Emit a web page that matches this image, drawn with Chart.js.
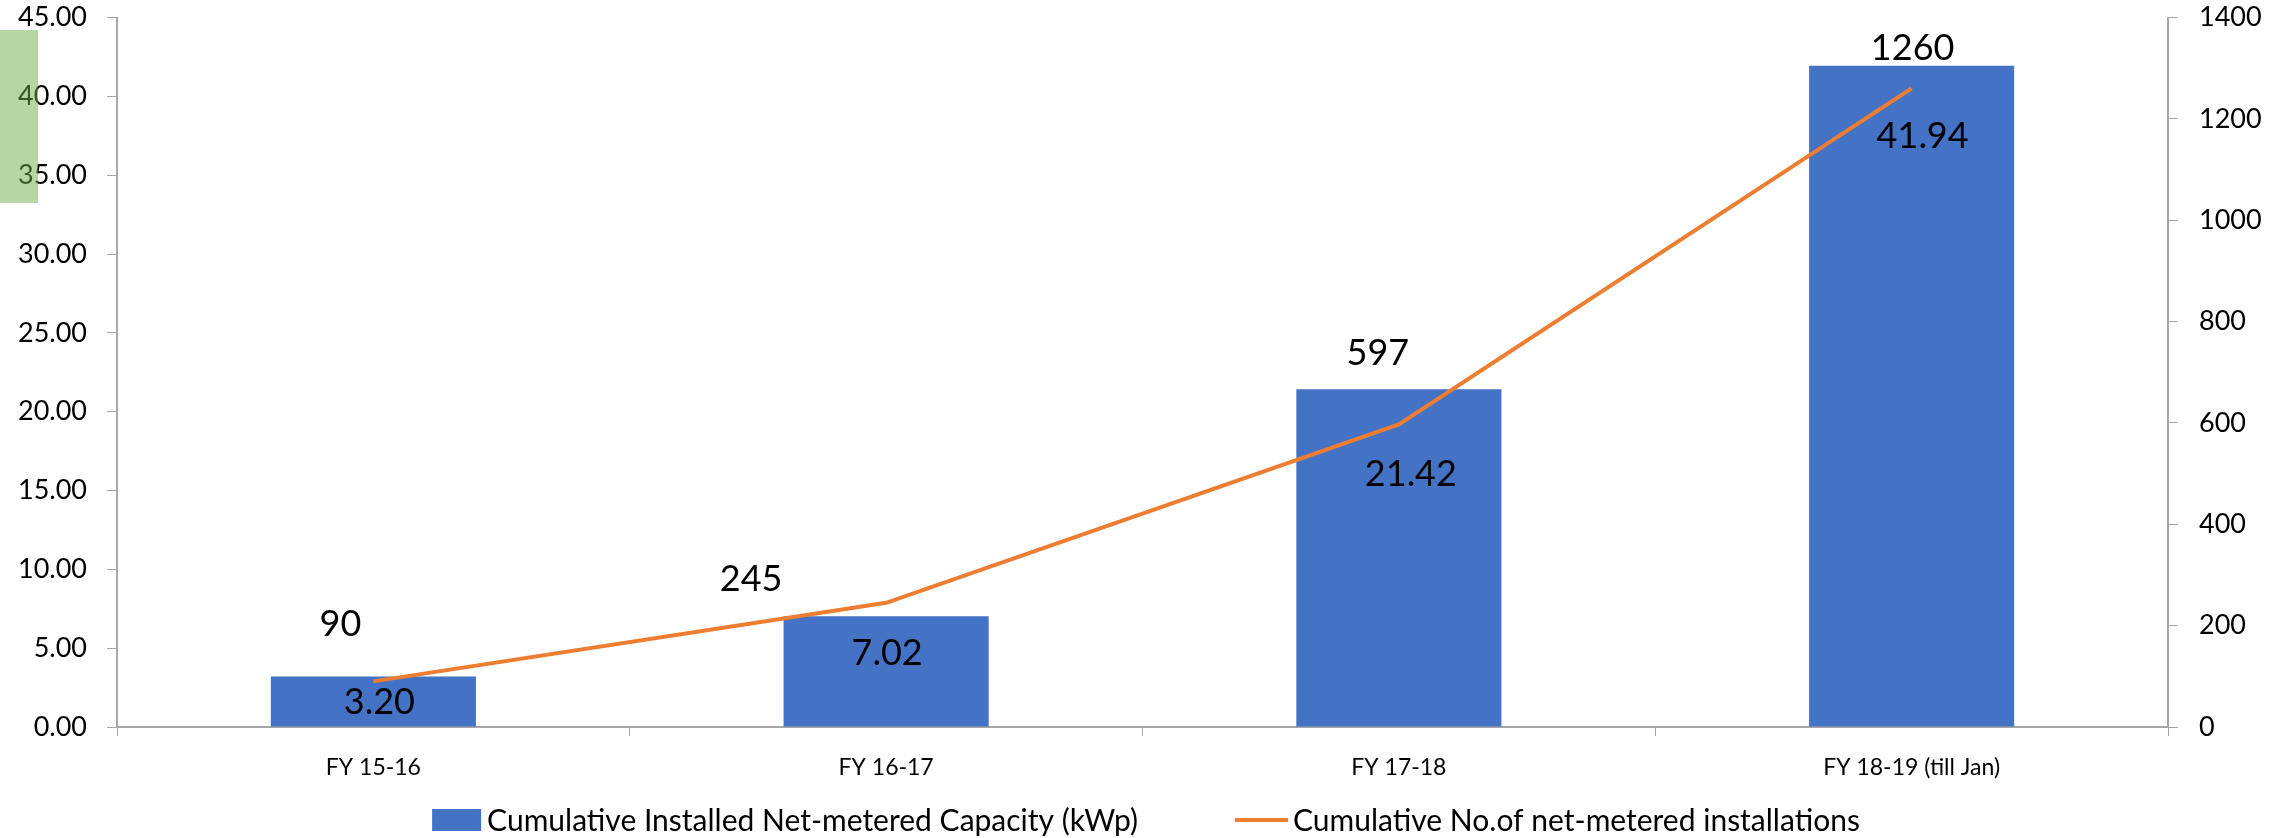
<!DOCTYPE html>
<html>
<head>
<meta charset="utf-8">
<script src="https://cdn.jsdelivr.net/npm/chart.js@4/dist/chart.umd.min.js"></script>
<style>
  html, body { margin: 0; padding: 0; background: #ffffff; overflow: hidden; }
  canvas { display: block; }
</style>
</head>
<body>
<canvas id="c" width="2290" height="838" style="width:2290px;height:838px;"></canvas>
<script>
// ---- data ----
const categories = ['FY 15-16', 'FY 16-17', 'FY 17-18', 'FY 18-19 (till Jan)'];
const capacityKWp = [3.20, 7.02, 21.42, 41.94];
const installations = [90, 245, 597, 1260];
const capacityLabel = 'Cumulative Installed Net-metered Capacity (kWp)';
const installLabel = 'Cumulative No.of net-metered installations';
const leftTicks = [0, 5, 10, 15, 20, 25, 30, 35, 40, 45];
const rightTicks = [0, 200, 400, 600, 800, 1000, 1200, 1400];

// label placement (pixel offsets relative to the element)
const barLabelOffsets = [[6, 25], [1, 36], [12, 84], [11, 69]];
const lineLabelOffsets = [[-33, -58], [-135, -25], [-21, -72], [1, -41]];

const FONT = 'Lato, "Open Sans", sans-serif';
const AXIS = '#a6a6a6';

const labelsPlugin = {
  id: 'valueLabels',
  afterDatasetsDraw(chart) {
    const ctx = chart.ctx;
    ctx.save();
    ctx.fillStyle = '#000000';
    ctx.textAlign = 'center';
    ctx.textBaseline = 'alphabetic';
    const size = 36;
    ctx.font = size + 'px ' + FONT;
    const barMeta = chart.getDatasetMeta(0);
    barMeta.data.forEach((el, i) => {
      const o = barLabelOffsets[i];
      ctx.fillText(capacityKWp[i].toFixed(2), el.x + o[0], el.y + o[1] + 0.358 * size);
    });
    const lineMeta = chart.getDatasetMeta(1);
    lineMeta.data.forEach((el, i) => {
      const o = lineLabelOffsets[i];
      ctx.fillText(String(installations[i]), el.x + o[0], el.y + o[1] + 0.358 * size);
    });
    ctx.restore();
  },
  afterDraw(chart) {
    const ctx = chart.ctx;
    ctx.save();
    // custom legend
    const fs = 30;
    ctx.font = fs + 'px ' + FONT;
    const w1 = ctx.measureText(capacityLabel).width;
    const w2 = ctx.measureText(installLabel).width;
    const boxW = 49, gap1 = 6, spacing = 97, lineW = 53, gap2 = 5;
    const total = boxW + gap1 + w1 + spacing + lineW + gap2 + w2;
    let x = 1146 - total / 2;
    const cy = 820;
    ctx.fillStyle = '#4472C4';
    ctx.fillRect(x, cy - 11, boxW, 22);
    x += boxW + gap1;
    ctx.fillStyle = '#000000';
    ctx.textAlign = 'left';
    ctx.textBaseline = 'alphabetic';
    ctx.fillText(capacityLabel, x, cy + 0.358 * fs);
    x += w1 + spacing;
    ctx.strokeStyle = '#ED7D31';
    ctx.lineWidth = 4;
    ctx.beginPath();
    ctx.moveTo(x, cy);
    ctx.lineTo(x + lineW, cy);
    ctx.stroke();
    x += lineW + gap2;
    ctx.fillText(installLabel, x, cy + 0.358 * fs);
    // green highlight box over left axis labels
    ctx.fillStyle = 'rgba(112,173,71,0.5)';
    ctx.fillRect(0, 30, 38, 173);
    ctx.restore();
  }
};

function fixVertical(width) {
  return function (scale) {
    scale.width = width;
    scale.paddingTop = 0;
    scale.paddingBottom = 0;
  };
}

new Chart(document.getElementById('c'), {
  type: 'bar',
  data: {
    labels: categories,
    datasets: [
      {
        type: 'bar',
        label: capacityLabel,
        data: capacityKWp,
        backgroundColor: '#4472C4',
        borderWidth: 0,
        yAxisID: 'y',
        categoryPercentage: 1.0,
        barPercentage: 0.4,
        order: 2
      },
      {
        type: 'line',
        label: installLabel,
        data: installations,
        borderColor: '#ED7D31',
        backgroundColor: '#ED7D31',
        borderWidth: 4,
        pointRadius: 0,
        tension: 0,
        yAxisID: 'y1',
        order: 1
      }
    ]
  },
  options: {
    responsive: false,
    animation: false,
    devicePixelRatio: 1,
    layout: { padding: { top: 17.5, bottom: 51, left: 0, right: 0 } },
    plugins: {
      legend: { display: false },
      tooltip: { enabled: false }
    },
    scales: {
      x: {
        offset: true,
        grid: {
          offset: true,
          drawOnChartArea: false,
          drawTicks: true,
          tickLength: 9,
          color: AXIS,
          tickColor: AXIS
        },
        border: { display: true, color: AXIS, width: 2 },
        ticks: { color: '#000000', font: { family: FONT, size: 23 }, padding: 18, maxRotation: 0 },
        afterFit(scale) { scale.height = 60; }
      },
      y: {
        position: 'left',
        min: 0,
        max: 45,
        afterBuildTicks(scale) { scale.ticks = leftTicks.map(v => ({ value: v })); },
        grid: { drawOnChartArea: false, tickLength: 10, color: AXIS, tickColor: AXIS },
        border: { display: true, color: AXIS, width: 2 },
        ticks: {
          color: '#000000',
          font: { family: FONT, size: 27 },
          padding: 20,
          callback: (v) => Number(v).toFixed(2)
        },
        afterFit: fixVertical(117)
      },
      y1: {
        position: 'right',
        min: 0,
        max: 1400,
        afterBuildTicks(scale) { scale.ticks = rightTicks.map(v => ({ value: v })); },
        grid: { drawOnChartArea: false, tickLength: 10, color: AXIS, tickColor: AXIS },
        border: { display: true, color: AXIS, width: 2 },
        ticks: {
          color: '#000000',
          font: { family: FONT, size: 27 },
          padding: 21,
          callback: (v) => String(v)
        },
        afterFit: fixVertical(122)
      }
    }
  },
  plugins: [labelsPlugin]
});
</script>
</body>
</html>
